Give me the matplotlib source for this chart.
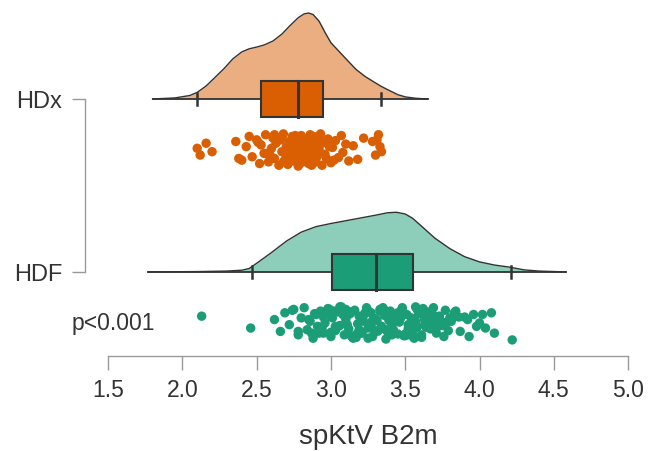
import matplotlib
matplotlib.use("Agg")
import matplotlib.pyplot as plt
import numpy as np

plt.rcParams['font.family'] = ['Liberation Sans', 'DejaVu Sans']

# ---------------- data ----------------
groups = ["HDF", "HDx"]          # y = 1, 2
fill_colors = ["#1B9E77", "#D95F02"]

# box statistics (q1, median, q3, whisker low, whisker high)
hdf_box = [3.01, 3.30, 3.55, 2.47, 4.21]
hdx_box = [2.53, 2.78, 2.95, 2.10, 3.34]

# density curves (value, height in y-units)
hdx_dens_x = [1.80, 1.95, 2.05, 2.10, 2.16, 2.22, 2.28, 2.34, 2.40, 2.45, 2.50, 2.55,
              2.61, 2.67, 2.72, 2.78, 2.82, 2.85, 2.88, 2.92, 2.96, 3.00, 3.06, 3.12, 3.17,
              3.23, 3.29, 3.34, 3.40, 3.45, 3.50, 3.57, 3.65]
hdx_dens_y = [0.000, 0.006, 0.020, 0.038, 0.075, 0.125, 0.175, 0.232, 0.272, 0.290,
              0.300, 0.312, 0.335, 0.375, 0.420, 0.470, 0.492, 0.497, 0.488, 0.450, 0.385,
              0.325, 0.270, 0.215, 0.170, 0.130, 0.098, 0.072, 0.046, 0.025, 0.012,
              0.004, 0.000]
hdf_dens_x = [1.77, 2.10, 2.30, 2.40, 2.45, 2.50, 2.60, 2.70, 2.80, 2.90, 3.00, 3.10,
              3.20, 3.30, 3.38, 3.44, 3.50, 3.55, 3.60, 3.70, 3.80, 3.90, 4.00, 4.10, 4.20,
              4.30, 4.40, 4.58]
hdf_dens_y = [0.000, 0.002, 0.005, 0.010, 0.020, 0.050, 0.112, 0.178, 0.230, 0.262,
              0.280, 0.296, 0.312, 0.328, 0.342, 0.345, 0.335, 0.310, 0.272, 0.195, 0.135,
              0.088, 0.058, 0.040, 0.028, 0.012, 0.005, 0.000]

# raw observations and their vertical jitter (-1..1)
hdx_vals = [2.10, 2.12, 2.16, 2.20, 2.36, 2.40, 2.43, 2.45, 2.47, 2.50,
            2.52, 2.53, 2.55, 2.56, 2.58, 2.60, 2.61, 2.62, 2.63, 2.65,
            2.66, 2.67, 2.68, 2.69, 2.70, 2.71, 2.72, 2.73, 2.74, 2.75,
            2.76, 2.77, 2.78, 2.78, 2.79, 2.80, 2.81, 2.82, 2.83, 2.84,
            2.85, 2.85, 2.86, 2.87, 2.88, 2.89, 2.90, 2.91, 2.92, 2.93,
            2.94, 2.95, 2.96, 2.98, 3.00, 3.01, 3.03, 3.05, 3.07, 3.08,
            3.10, 3.12, 3.15, 3.18, 3.22, 3.28, 3.30, 3.31, 3.33, 3.34,
            2.62, 2.70, 2.74, 2.79, 2.81, 2.83, 2.88, 2.90, 2.94, 2.97,
            2.57, 2.64, 2.68, 2.72, 2.76, 2.80, 2.84, 2.87, 2.91, 2.99,
            2.38, 2.51, 2.59, 2.67, 2.75, 2.82, 2.86, 2.92, 3.02, 3.32]
hdx_jit = [0.1, -0.3, 0.4, -0.1, 0.5, -0.6, 0.2, 0.8, -0.4, 0.6,
           -0.8, 0.3, -0.2, 0.9, -0.7, 0.1, 0.7, -0.5, 0.4, -0.9,
           0.6, -0.1, 0.95, -0.6, 0.2, -0.85, 0.5, -0.3, 0.8, 0.0,
           -0.5, 0.7, -0.95, 0.3, -0.2, 0.85, -0.7, 0.1, 0.6, -0.4,
           0.4, -0.8, 0.9, -0.1, 0.2, -0.6, 0.75, -0.35, 0.05, 0.95,
           -0.9, 0.45, -0.25, 0.65, -0.75, 0.15, 0.55, -0.45, 0.85, -0.15,
           0.35, -0.65, 0.25, -0.55, 0.7, 0.5, -0.3, 0.6, 0.2, -0.1,
           0.9, -0.4, 0.3, -0.8, 0.55, -0.2, 0.8, -0.7, 0.4, -0.5,
           -0.2, 0.6, -0.7, 0.1, 0.85, -0.4, 0.3, -0.9, 0.5, 0.2,
           -0.5, 0.45, -0.3, 0.75, -0.65, 0.0, -0.15, 0.65, -0.6, 0.9]
hdf_vals = [2.13, 2.46, 2.62, 2.66, 2.69, 2.72, 2.75, 2.78, 2.80, 2.82,
            2.84, 2.86, 2.88, 2.90, 2.91, 2.93, 2.95, 2.96, 2.98, 3.00,
            3.01, 3.03, 3.04, 3.06, 3.07, 3.09, 3.10, 3.12, 3.13, 3.15,
            3.16, 3.18, 3.19, 3.21, 3.22, 3.24, 3.25, 3.27, 3.28, 3.30,
            3.31, 3.33, 3.34, 3.36, 3.37, 3.39, 3.40, 3.42, 3.43, 3.45,
            3.46, 3.48, 3.49, 3.51, 3.52, 3.54, 3.55, 3.57, 3.58, 3.60,
            3.61, 3.63, 3.65, 3.67, 3.69, 3.71, 3.73, 3.75, 3.77, 3.79,
            3.81, 3.84, 3.87, 3.90, 3.93, 3.96, 4.00, 4.04, 4.08, 4.22,
            2.85, 2.92, 2.99, 3.05, 3.11, 3.17, 3.23, 3.29, 3.35, 3.41,
            3.47, 3.53, 3.59, 3.64, 3.70, 3.02, 3.20, 3.38, 3.56, 3.74,
            2.94, 3.08, 3.14, 3.26, 3.32, 3.44, 3.50, 3.62, 3.68, 3.86,
            2.97, 3.11, 3.19, 3.28, 3.36, 3.41, 3.47, 3.55, 3.66, 3.78,
            2.87, 2.95, 3.03, 3.10, 3.16, 3.22, 3.27, 3.33, 3.38, 3.43,
            3.48, 3.52, 3.57, 3.61, 3.66, 3.72, 3.80, 3.00, 3.13, 3.25,
            3.31, 3.37, 3.45, 3.50, 3.58, 3.63, 2.89, 3.06, 3.18, 3.40,
            3.53, 3.69, 3.76, 3.83, 3.92, 2.78, 2.74, 3.98, 4.02, 4.10]
hdf_jit = [0.4, -0.3, 0.2, -0.5, 0.6, -0.1, 0.8, -0.7, 0.3, 0.9,
           -0.4, 0.1, -0.9, 0.5, -0.2, 0.7, -0.6, 0.0, 0.85, -0.8,
           0.3, -0.45, 0.65, -0.15, 0.95, -0.7, 0.2, -0.35, 0.55, -0.9,
           0.75, -0.05, 0.4, -0.6, 0.1, 0.9, -0.3, 0.6, -0.8, 0.25,
           -0.5, 0.8, -0.2, 0.45, -0.95, 0.15, 0.7, -0.4, 0.35, -0.65,
           0.05, 0.85, -0.75, 0.5, -0.1, 0.3, -0.55, 0.95, -0.25, 0.6,
           -0.85, 0.2, 0.65, -0.35, 0.9, -0.6, 0.4, -0.15, 0.75, -0.45,
           0.1, 0.7, -0.5, 0.35, -0.8, 0.5, 0.0, -0.3, 0.6, -1.0,
           0.2, -0.6, 0.8, -0.2, 0.45, -0.85, 0.6, -0.4, 0.9, -0.1,
           0.3, -0.7, 0.55, -0.25, 0.15, 0.7, -0.5, 0.4, -0.9, 0.1,
           -0.3, 0.5, -0.8, 0.65, -0.45, 0.25, -0.65, 0.85, -0.15, 0.35,
           0.6, -0.1, -0.4, 0.15, 0.75, -0.7, 0.45, -0.55, 0.25, 0.05,
           -0.6, 0.35, -0.2, 0.8, -0.75, 0.45, -0.05, 0.7, -0.5, 0.2,
           0.9, -0.35, 0.1, -0.7, 0.5, -0.2, 0.3, -0.55, 0.65, -0.9,
           0.15, -0.4, 0.6, -0.75, 0.8, -0.1, 0.55, 0.95, -0.6, 0.1,
           -0.3, 0.45, -0.8, 0.6, 0.2, -0.5, 0.75, -0.2, 0.5, -0.6]

xticks = [1.5, 2.0, 2.5, 3.0, 3.5, 4.0, 4.5, 5.0]
xtick_labels = ["1.5", "2.0", "2.5", "3.0", "3.5", "4.0", "4.5", "5.0"]
x_label = "spKtV B2m"
p_text = "p<0.001"

# ---------------- figure ----------------
W, H = 649, 452
fig = plt.figure(figsize=(W / 100, H / 100), dpi=100)
ax = fig.add_axes([85 / W, (H - 357) / H, (640 - 85) / W, (357 - 5) / H])
ax.set_xlim(1.345, 5.08)
ax.set_ylim(0.514, 2.549)

edge = "#333333"
box_half = 0.104
cap_half = 0.035
dot_off = -0.295
dot_spread = 0.098

sets = [
    (1, hdf_box, hdf_dens_x, hdf_dens_y, hdf_vals, hdf_jit, fill_colors[0]),
    (2, hdx_box, hdx_dens_x, hdx_dens_y, hdx_vals, hdx_jit, fill_colors[1]),
]
for ypos, box, dx, dy, vals, jit, col in sets:
    dx = np.asarray(dx)
    dy = np.asarray(dy)
    ax.fill_between(dx, ypos, ypos + dy, color=col, alpha=0.5, lw=0, zorder=1)
    ax.plot(dx, ypos + dy, color=edge, lw=1.0, zorder=2)
    ax.plot([dx[0], dx[-1]], [ypos, ypos], color=edge, lw=1.3, zorder=2)
    q1, med, q3, wlo, whi = box
    for w in (wlo, whi):
        ax.plot([w, w], [ypos - cap_half, ypos + cap_half], color=edge, lw=1.8, zorder=3)
    ax.add_patch(plt.Rectangle((q1, ypos - box_half), q3 - q1, 2 * box_half,
                               facecolor=col, edgecolor=edge, lw=1.5, zorder=4))
    ax.plot([med, med], [ypos - box_half, ypos + box_half], color=edge, lw=2.2, zorder=5)
    ax.scatter(vals, ypos + dot_off + dot_spread * np.asarray(jit), s=46,
               color=col, edgecolors='none', zorder=3)

# axes styling
for s in ("top", "right"):
    ax.spines[s].set_visible(False)
ax.spines["bottom"].set_bounds(1.5, 5.0)
ax.spines["left"].set_bounds(1, 2)
for s in ("bottom", "left"):
    ax.spines[s].set_color("#9a9a9a")
    ax.spines[s].set_linewidth(1.0)

ax.set_xticks(xticks)
ax.set_xticklabels(xtick_labels)
ax.set_yticks([1, 2])
ax.set_yticklabels(groups)
ax.tick_params(axis="x", length=10, width=1.0, color="#9a9a9a", pad=6,
               labelsize=16.5, labelcolor="#333333")
ax.tick_params(axis="y", length=9.5, width=1.0, color="#9a9a9a", pad=7,
               labelsize=17, labelcolor="#333333")

ax.set_xlabel(x_label, fontsize=20, color="#333333")
ax.xaxis.set_label_coords((368 - 85) / 555, -(437 - 357) / 352)
ax.xaxis.label.set_va("center")

ax.text(72 / W, (H - 324) / H, p_text, transform=fig.transFigure,
        fontsize=16.5, color="#333333", ha="left", va="center")

fig.savefig("out.png", dpi=100)
